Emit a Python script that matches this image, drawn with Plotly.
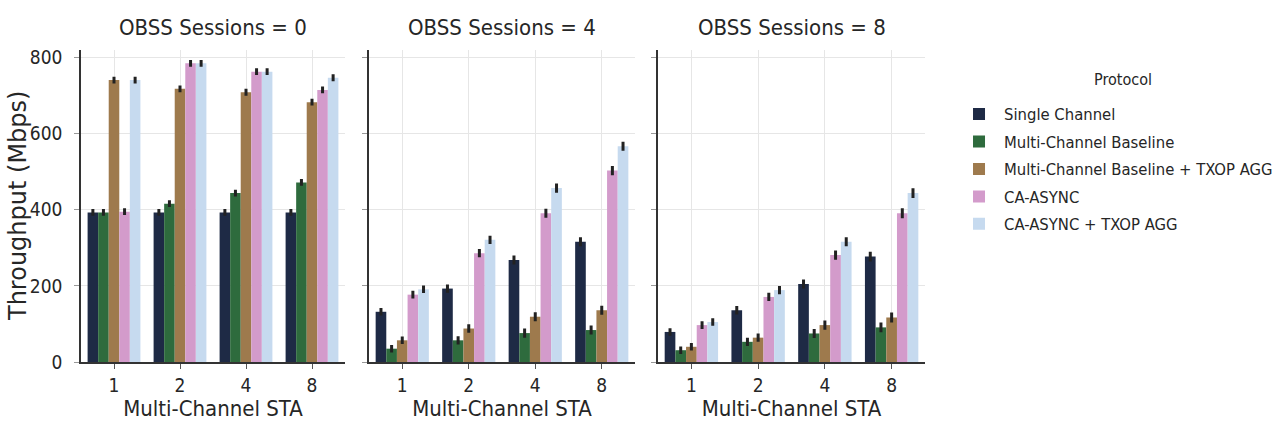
import plotly.graph_objects as go
from plotly.subplots import make_subplots

TEXT = "#262626"
GRID = "#E6E6E6"
AXIS = "#333333"
COND = "DejaVu Sans Condensed, DejaVu Sans, sans-serif"

STA = ["1", "2", "4", "8"]
PANELS = ["OBSS Sessions = 0", "OBSS Sessions = 4", "OBSS Sessions = 8"]
PROTOCOLS = [
    "Single Channel",
    "Multi-Channel Baseline",
    "Multi-Channel Baseline + TXOP AGG",
    "CA-ASYNC",
    "CA-ASYNC + TXOP AGG",
]
COLORS = ["#1E2A45", "#2E6B3D", "#9E7A4D", "#D39BCB", "#C6DAEF"]

# throughput (Mbps) per protocol, one list per panel, ordered by STA
OBSS0 = [
    [393, 393, 393, 393],
    [393, 416, 444, 472],
    [741, 718, 709, 683],
    [395, 785, 763, 715],
    [741, 785, 763, 747],
]
OBSS4 = [
    [132, 193, 268, 316],
    [35, 57, 76, 84],
    [57, 88, 119, 136],
    [177, 286, 391, 503],
    [191, 321, 457, 567],
]
OBSS8 = [
    [79, 136, 205, 277],
    [31, 53, 75, 91],
    [40, 64, 97, 117],
    [97, 171, 281, 391],
    [105, 189, 316, 444],
]
ERR0 = [5, 5, 5, 5]
ERR4 = [6, 7, 8, 8]
ERR8 = [6, 7, 8, 9]

DATA = [OBSS0, OBSS4, OBSS8]
ERRS = [ERR0, ERR4, ERR8]

fig = make_subplots(rows=1, cols=3, shared_yaxes=True)

for col, (panel, err) in enumerate(zip(DATA, ERRS), start=1):
    for i, name in enumerate(PROTOCOLS):
        fig.add_trace(go.Bar(
            x=STA, y=panel[i], name=name,
            marker=dict(color=COLORS[i], line=dict(width=0)),
            error_y=dict(type="data", array=err, color="#222222", thickness=3, width=1.5),
            legendgroup=name, showlegend=(col == 1),
        ), row=1, col=col)

domains = [(81, 345), (369, 635), (658, 925)]
W = 1284
for col, (a, b) in enumerate(domains, start=1):
    key = "xaxis" if col == 1 else f"xaxis{col}"
    fig.layout[key].domain = [a / W, b / W]
    fig.update_xaxes(
        type="category", range=[-0.5, 3.5], automargin=False,
        showgrid=True, gridcolor=GRID, gridwidth=1,
        showline=True, linecolor=AXIS, linewidth=1.5,
        ticks="outside", ticklen=5, tickcolor="#555555",
        tickfont=dict(size=19, family=COND, color=TEXT),
        title=dict(text="Multi-Channel STA", font=dict(size=22, family=COND, color=TEXT), standoff=2),
        row=1, col=col,
    )
    fig.update_yaxes(
        range=[0, 820], tickvals=[0, 200, 400, 600, 800], automargin=False,
        showgrid=True, gridcolor=GRID, gridwidth=1, zeroline=False,
        showline=True, linecolor=AXIS, linewidth=1.5,
        ticks="outside", ticklen=5, tickcolor="#999999", ticklabelstandoff=8,
        tickfont=dict(size=19, family=COND, color=TEXT),
        row=1, col=col,
    )
    fig.add_annotation(
        text=PANELS[col - 1], x=(a + b) / 2 / W, y=1, xref="paper", yref="paper",
        xanchor="center", yanchor="bottom", yshift=8, showarrow=False,
        font=dict(size=22, family=COND, color=TEXT),
    )

# y-axis title as a rotated annotation so it sits where the reference has it
fig.add_annotation(
    text="Throughput (Mbps)", x=18 / W, y=0.5, xref="paper", yref="paper",
    xanchor="center", yanchor="middle", textangle=-90, showarrow=False,
    font=dict(size=24, family="DejaVu Sans, sans-serif", color=TEXT),
)

fig.add_annotation(
    text="Protocol", x=1123 / W, y=0.904, xref="paper", yref="paper",
    xanchor="center", yanchor="middle", showarrow=False,
    font=dict(size=16, family=COND, color=TEXT),
)

fig.update_layout(
    width=1284, height=429,
    margin=dict(l=0, r=0, t=50, b=67),
    barmode="group", bargap=0.2, bargroupgap=0,
    paper_bgcolor="white", plot_bgcolor="white",
    font=dict(family=COND, color=TEXT),
    legend=dict(
        x=0.743, y=0.85, xanchor="left", yanchor="top",
        font=dict(size=16.5, family=COND, color=TEXT),
        traceorder="grouped", tracegroupgap=3, itemwidth=40,
        bgcolor="rgba(0,0,0,0)",
    ),
)

fig.write_html("out.html", config={"displayModeBar": False},
               post_script="document.body.style.margin='0';")
